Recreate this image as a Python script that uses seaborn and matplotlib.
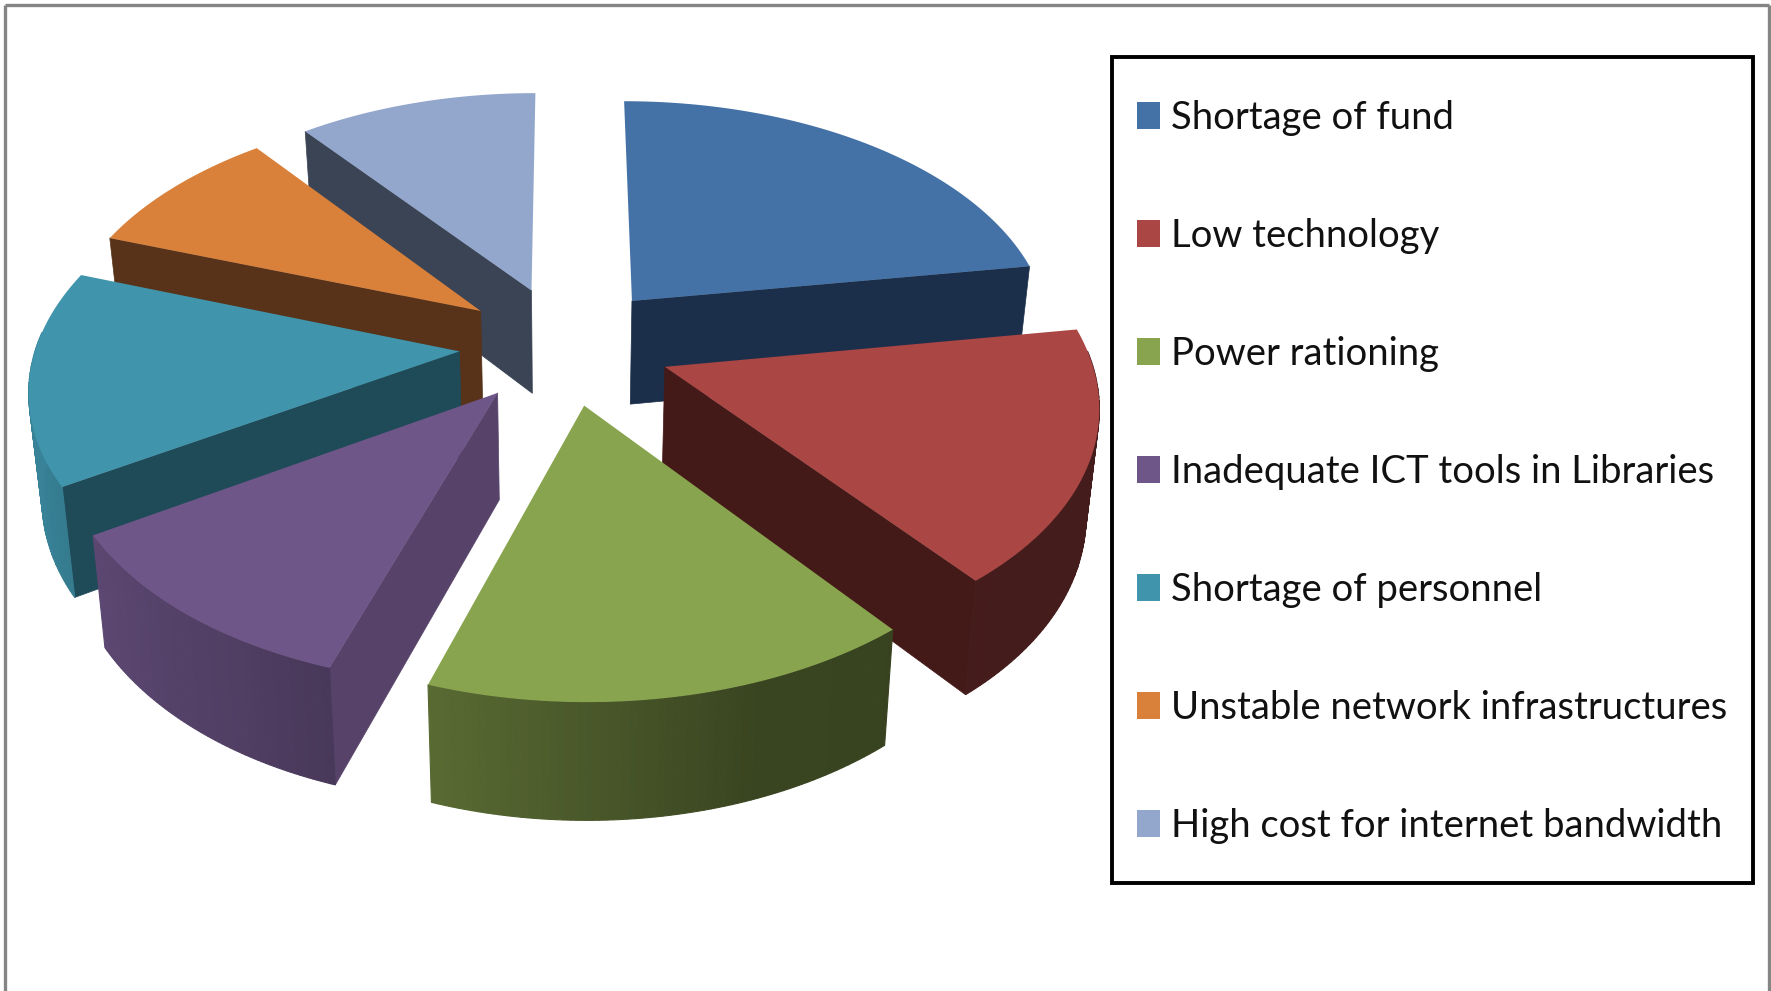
import numpy as np
import matplotlib
matplotlib.use("Agg")
import matplotlib.pyplot as plt
from matplotlib.patches import Patch, Rectangle
import seaborn as sns

categories = ["Shortage of fund", "Low technology", "Power rationing",
              "Inadequate ICT tools in Libraries", "Shortage of personnel",
              "Unstable network infrastructures", "High cost for internet bandwidth"]
values = [22.5, 16.8, 15.8, 11.1, 14.2, 9.0, 10.6]
top_colors = ["#4471a6", "#aa4644", "#89a44e", "#6f5689", "#4095ad", "#d9813b", "#93a7cd"]
cut_colors = ["#1c2f4a", "#441a18", "#34401c", "#574269", "#1f4a58", "#58331a", "#3a4454"]

sns.set_theme(style="white")
plt.rcParams['font.family'] = ['Lato', 'DejaVu Sans']

W, H = 1771, 991
fig, ax = plt.subplots(figsize=(W / 100, H / 100), dpi=100)
ax.set_position([0, 0, 1, 1])
ax.set_xlim(0, W)
ax.set_ylim(H, 0)
ax.axis("off")

palette = sns.color_palette(top_colors)
CX, CY, A, B, K, E, D = 565.0, 345.0, 423.0, 238.0, 0.136, 0.25, 105.0


def proj(X, Y, h=0.0):
    X, Y = np.asarray(X, float), np.asarray(Y, float)
    s = 1 / (1 + K * Y)
    sd = 1 / (1 + 0.09 * Y)
    return CX + A * X * s * (1 - 0.025 * h), CY - B * Y * s + D * h * sd


def shade(deg):
    return np.interp(deg, [90, 135, 160, 210, 250, 290], [.4, .4, .42, .72, .87, .9])


angles = 360 * np.array(values) / np.sum(values)
starts = np.concatenate([[0], np.cumsum(angles)[:-1]])
draw_order = [0, 6, 5, 4, 3, 1, 2]

for rank, i in enumerate(draw_order):
    t0, t1 = starts[i], starts[i] + angles[i]
    mid = np.radians((t0 + t1) / 2)
    ox, oy = E * np.sin(mid), E * np.cos(mid)
    th = np.radians(np.linspace(t0, t1, 70))
    X, Y = ox + np.sin(th), oy + np.cos(th)
    for tt, sgn in ((t0, -1), (t1, 1)):
        r = np.radians(tt)
        # radial cut faces are seen only when their normal points at the viewer
        if -sgn * np.sin(r) < -1e-3:
            xa, ya = proj([ox, ox + np.sin(r)], [oy, oy + np.cos(r)], 0)
            xb, yb = proj([ox, ox + np.sin(r)], [oy, oy + np.cos(r)], 1)
            ax.fill([xa[0], xa[1], xb[1], xb[0]], [ya[0], ya[1], yb[1], yb[0]],
                    color=cut_colors[i], lw=0.5, zorder=1 + rank * 3)
    for j in range(len(th) - 1):
        if np.cos(th[j]) < 0.08:
            xa, ya = proj(X[j:j + 2], Y[j:j + 2], 0)
            xb, yb = proj(X[j:j + 2], Y[j:j + 2], 1)
            c = np.array(palette[i]) * shade(np.degrees(th[j]))
            ax.fill([xa[0], xa[1], xb[1], xb[0]], [ya[0], ya[1], yb[1], yb[0]],
                    color=c, lw=0.8, zorder=2 + rank * 3)
    tx, ty = proj(np.r_[ox, X], np.r_[oy, Y], 0)
    ax.fill(tx, ty, color=palette[i], lw=0, zorder=3 + rank * 3)

# picture frame: grey on top and at both sides, open at the bottom
for x0, y0, x1, y1 in [(5, 5, 5, H), (5, 5, W - 2, 5), (W - 2, 5, W - 2, H)]:
    ax.plot([x0, x1], [y0, y1], color="#858585", lw=2.4, zorder=40, solid_capstyle="butt")

# legend box
ax.add_patch(Rectangle((1112, 57), 641, 826, facecolor="white", edgecolor="black", lw=2.8, zorder=45))
handles = [Patch(facecolor=palette[i], edgecolor="none", label=c) for i, c in enumerate(categories)]
leg = ax.legend(handles=handles, loc="upper left",
                bbox_to_anchor=(1137, 99.5), bbox_transform=ax.transData,
                fontsize=27.5, frameon=False,
                labelspacing=2.15, handlelength=0.60, handleheight=0.71,
                handletextpad=0.29, borderpad=0, borderaxespad=0, labelcolor="#111111")
leg.set_zorder(50)
fig.savefig("out.png", dpi=100, facecolor="white")
